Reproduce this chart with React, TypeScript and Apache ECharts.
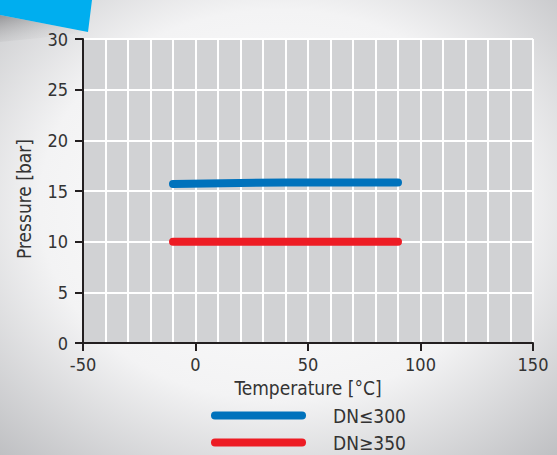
import React, { useEffect, useRef } from "react";
import * as echarts from "echarts";

const seriesNames = ["DN≤300", "DN≥350"];
const blueTemps = [-10, 40, 90];
const bluePressure = [15.7, 15.85, 15.85];
const redTemps = [-10, 90];
const redPressure = [10, 10];
const xTitle = "Temperature [°C]";
const yTitle = "Pressure [bar]";

const FONT = "'Liberation Sans Narrow', 'DejaVu Sans Condensed', 'Roboto', sans-serif";
const TEXT = "#333333";
const AXIS = "#231f20";

export default function App() {
  const ref = useRef<HTMLDivElement>(null);
  useEffect(() => {
    document.body.style.margin = "0";
    const chart = echarts.init(ref.current!, null, { renderer: "svg" });
    const legendIcon = "path://M4,0H91A4,4,0,0,1,91,8H4A4,4,0,0,1,4,0Z";
    const legendBase = {
      orient: "horizontal",
      left: 211,
      itemWidth: 95,
      itemHeight: 8,
      icon: legendIcon,
      padding: 0,
      textStyle: {
        fontFamily: FONT,
        fontSize: 19,
        color: TEXT,
        padding: [0, 0, 0, 22],
      },
    };
    chart.setOption({
      animation: false,
      textStyle: { fontFamily: FONT },
      graphic: [
        {
          type: "rect",
          z: -100,
          silent: true,
          shape: { x: 0, y: 0, width: 557, height: 455 },
          style: {
            fill: {
              type: "radial",
              x: 0.5,
              y: 0.45,
              r: 0.78,
              colorStops: [
                { offset: 0, color: "#ffffff" },
                { offset: 0.55, color: "#f3f3f4" },
                { offset: 1, color: "#b9babd" },
              ],
            },
          },
        },
        {
          type: "polygon",
          z: -99,
          silent: true,
          shape: { points: [[0, 15], [88, 32], [40, 38], [0, 42]] },
          style: {
            fill: {
              type: "linear",
              x: 0,
              y: 0,
              x2: 0.8,
              y2: 1,
              colorStops: [
                { offset: 0, color: "rgba(110,110,112,0.6)" },
                { offset: 1, color: "rgba(220,220,222,0)" },
              ],
            },
          },
        },
        {
          type: "polygon",
          z: -98,
          silent: true,
          shape: { points: [[0, 0], [92, 0], [88, 32], [0, 15]] },
          style: { fill: "#00aeef" },
        },
      ],
      grid: {
        left: 83,
        right: 24,
        top: 39,
        bottom: 112,
        show: true,
        backgroundColor: "#d1d2d4",
        borderWidth: 0,
      },
      legend: [
        { ...legendBase, top: 406, data: [seriesNames[0]] },
        { ...legendBase, top: 433, data: [seriesNames[1]] },
      ],
      xAxis: {
        type: "value",
        min: -50,
        max: 150,
        interval: 50,
        name: xTitle,
        nameLocation: "middle",
        nameGap: 35,
        nameTextStyle: { fontFamily: FONT, fontSize: 19, color: TEXT },
        axisLine: { show: true, onZero: false, lineStyle: { color: AXIS, width: 2 } },
        axisTick: { show: true, length: 8, lineStyle: { color: AXIS, width: 2 } },
        axisLabel: { margin: 12, fontFamily: FONT, fontSize: 18, color: TEXT },
        splitLine: { show: true, lineStyle: { color: "#ffffff", width: 2 } },
        minorTick: { show: false, splitNumber: 5 },
        minorSplitLine: { show: true, lineStyle: { color: "#ffffff", width: 2 } },
      },
      yAxis: {
        type: "value",
        min: 0,
        max: 30,
        interval: 5,
        name: yTitle,
        nameLocation: "middle",
        nameGap: 50,
        nameTextStyle: { fontFamily: FONT, fontSize: 19, color: TEXT, padding: [0, 16, 0, 0] },
        axisLine: { show: true, onZero: false, lineStyle: { color: AXIS, width: 2 } },
        axisTick: { show: true, length: 8, lineStyle: { color: AXIS, width: 2 } },
        axisLabel: { margin: 15, fontFamily: FONT, fontSize: 18, color: TEXT },
        splitLine: { show: true, lineStyle: { color: "#ffffff", width: 2 } },
      },
      series: [
        {
          name: seriesNames[0],
          type: "line",
          data: blueTemps.map((t, i) => [t, bluePressure[i]]),
          symbol: "none",
          color: "#0072bc",
          lineStyle: { width: 8, cap: "round", join: "round", color: "#0072bc" },
        },
        {
          name: seriesNames[1],
          type: "line",
          data: redTemps.map((t, i) => [t, redPressure[i]]),
          symbol: "none",
          color: "#ed1c24",
          lineStyle: { width: 8, cap: "round", join: "round", color: "#ed1c24" },
        },
      ],
    });
    return () => chart.dispose();
  }, []);
  return <div ref={ref} style={{ width: 557, height: 455 }} />;
}
